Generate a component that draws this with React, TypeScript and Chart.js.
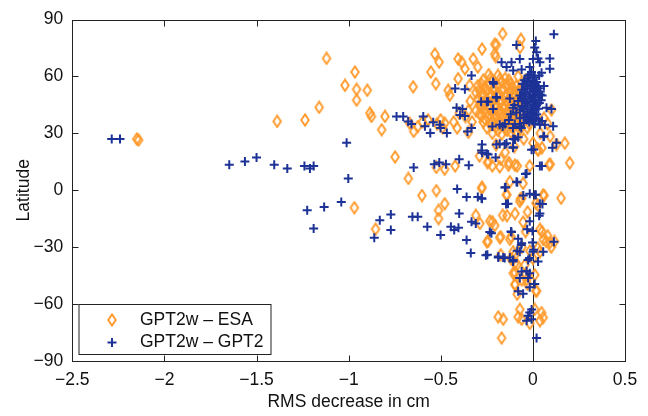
import { useEffect, useRef } from 'react';
import { Chart, registerables } from 'chart.js';

Chart.register(...registerables);

const seriesLabels = ['GPT2w – ESA', 'GPT2w – GPT2'];

const esaRms = [
  -2.15, -2.14, -1.388, -1.237, -1.16, -1.12,
  -0.966, -1.02, -0.957, -0.899, -0.957, -0.885, -0.876, -0.803, -0.821, -0.65, -0.748, -0.676, -0.969, -0.854,
  -0.532, -0.509, -0.554, -0.527, -0.46, -0.451, -0.406, -0.387, -0.369, -0.406, -0.324, -0.299, -0.344, -0.276, -0.198, -0.202, -0.164, -0.207, -0.207, -0.065, -0.07,
  -0.67, -0.647, -0.625, -0.569, -0.501, -0.479, -0.49, -0.411, -0.4, -0.366, -0.43, -0.35, -0.6, -0.52,
  -0.524, -0.479, -0.422, -0.247, -0.22, -0.175, -0.13, -0.085, -0.018, 0.094, 0.2, 0.173, 0.128, 0.027, 0.049, 0.088, -0.098, -0.133, -0.18, -0.241, -0.278, 0.029, -0.053, -0.125, -0.29, -0.15, -0.2, -0.1, -0.05, 0.0,
  -0.524, -0.602, -0.276, -0.142, -0.067, 0.061, 0.153, 0.056, 0.016, -0.061, -0.143, -0.071, -0.479, -0.512, -0.512, -0.31, -0.288, -0.22, -0.164, -0.097, -0.029, 0.027, -0.141, -0.234, -0.207, -0.053, 0.038,
  -0.243, -0.175, -0.119, -0.04, 0.049, 0.072, 0.117, 0.027, -0.18, -0.25, 0.056, 0.092, -0.125, 0.08, 0.1,
  -0.175, -0.097, -0.085, -0.097, -0.04, -0.097, -0.029, 0.016, -0.085, -0.107, -0.017, 0.038, -0.098, -0.044, -0.107, -0.061, 0.01, -0.034, -0.098, 0.02, -0.12, -0.06, 0.0,
  -0.188, -0.161, -0.17, -0.071, -0.08, -0.061, 0.01, 0.047, 0.056, 0.038, -0.017,
  0.101, 0.094, 0.06, 0.04, 0.08,
  -0.24, -0.19, -0.15, -0.27, -0.22, -0.17, -0.12, -0.3, -0.26, -0.21, -0.16, -0.11, -0.07, -0.31, -0.27, -0.23, -0.19, -0.14, -0.1, -0.06,
  -0.3, -0.25, -0.21, -0.17, -0.13, -0.09, -0.05, -0.29, -0.24, -0.2, -0.16, -0.12, -0.08, -0.31, -0.26, -0.22, -0.18, -0.14, -0.1, -0.06,
  -0.28, -0.24, -0.2, -0.16, -0.12, -0.08, -0.27, -0.22, -0.18, -0.14, -0.1, -0.06, -0.02, -0.25, -0.2, -0.15, -0.11, -0.07, -0.03,
  -0.22, -0.17, -0.12, -0.34, -0.35, -0.33, -0.04, -0.08,
  -0.23, -0.18, -0.13, -0.28, -0.24, -0.19, -0.14, -0.09, -0.29, -0.25, -0.21, -0.17, -0.12, -0.08, -0.28, -0.23, -0.19, -0.15, -0.11, -0.07,
  -0.27, -0.22, -0.18, -0.14, -0.1, -0.28, -0.24, -0.2, -0.16, -0.12, -0.08, -0.29, -0.25, -0.21, -0.17, -0.13, -0.09,
  -0.26, -0.21, -0.17, -0.13, -0.09, -0.05, -0.23, -0.19, -0.15, -0.11, -0.07, -0.19, -0.14, -0.09,
];
const esaLat = [
  27, 26.5, 36.3, 37, 43.7, 69.5,
  62.3, 55.3, 53.2, 52.7, 47.5, 40.6, 38.9, 38.9, 31.9, 54.5, 17.5, 6.2, -9.2, -20.5,
  71.8, 67.5, 62.3, 56.2, 52.7, 50.1, 69.2, 67.5, 64, 58.8, 69.2, 64.9, 55.3, 74.4, 76.6, 70.4, 82.5, 77, 71.8, 79.5, 75.3,
  35.4, 31, 33.6, 37.1, 37.1, 35.4, 33, 32.8, 40.6, 38.8, 36, 30.5, 36, 35,
  12, 11.1, 12.8, 14.6, 12.8, 16.3, 14.6, 12.8, 12.8, 13.7, 14.4, 24.8, 24.1, 21.5, 22.4, 13.5, 13.2, 13.2, 12.3, 14.9, 1, 21, 3.6, 4.5, 18, 20, 24, 23, 27, 25,
  -0.2, -2.8, 1.6, -2.4, -4.5, -2.8, -4.2, -2.4, -6.8, -4.2, -2.4, -5.9, -7.1, -10.6, -14.9, -13.2, -17.5, -16.6, -13.2, -12.3, -11.4, -8, -13.4, -16.3, -18.6, -16.8, -20.6,
  -27, -24.5, -24.5, -21.8, -21.8, -27, -27, -30.5, -25, -27.2, -25.9, -27.6, -25.9, -24, -30,
  -34, -34, -39.2, -43.5, -44.4, -49.6, -49.6, -53, -54.8, -32.4, -32, -32.4, -38.5, -39.4, -43.7, -47.2, -44.6, -47.2, -49.8, -53.2, -36, -30, -36,
  -66.8, -68, -77.9, -62.8, -66.8, -68, -62.8, -64.5, -67.1, -68.8, -70.2,
  42.3, 28.4, 38, 30, 35,
  61, 60.5, 59, 58, 57.5, 57, 56, 55, 54.5, 54, 53.5, 54, 53, 51.5, 51, 50.5, 51.5, 50.5, 51, 50,
  48, 47.5, 48.5, 47, 48, 47.5, 47, 45, 44.5, 45.5, 44, 45, 44.5, 42, 42.5, 41.5, 42.5, 41.5, 42, 41,
  39, 39.5, 38.5, 39.5, 38.5, 39, 36, 36.5, 35.5, 36.5, 35.5, 36, 35, 33, 33.5, 32.5, 33, 32, 33,
  30, 29.5, 30.5, 47, 42, 36, 58, 60,
  59, 58.5, 58, 56, 55.5, 55, 55.5, 55, 52.5, 52.5, 52, 52.5, 52, 52.5, 49.5, 49, 49.5, 49, 49.5, 49,
  46, 46.5, 46, 46.5, 46, 43.5, 43, 43.5, 43, 43.5, 43, 40.5, 41, 40, 40.5, 40, 40.5,
  37.5, 38, 37.5, 38, 37.5, 38, 34.5, 35, 34.5, 34.5, 34, 31.5, 31.5, 31,
];

const gpt2Rms = [
  -2.286, -2.241, -1.648, -1.563, -1.5, -1.404, -1.333, -1.24, -1.21, -1.19, -1.225, -1.133, -1.19, -1.04, -1.011, -1.002, -0.861, -0.831, -0.771, -0.771,
  -0.74, -0.704, -0.677, -0.659, -0.595, -0.586, -0.541, -0.505, -0.557, -0.467, -0.501, -0.647, -0.654, -0.625, -0.573, -0.535, -0.508, -0.472, -0.501, -0.445, -0.427, -0.4, -0.411, -0.4, -0.404, -0.36, -0.348, -0.36, -0.337, -0.333, -0.31, -0.299, -0.276,
  -0.414, -0.382, -0.396, -0.369, -0.422, -0.333, -0.369, -0.355, -0.333, -0.281, -0.243, -0.213, -0.198, -0.276, -0.276, -0.243, -0.202, -0.279, -0.25,
  -0.225, -0.247, -0.187, -0.153, -0.108, -0.119, -0.135, -0.148, -0.085, -0.04, -0.052, 0.016, 0.038, 0.038, 0.049, 0.004, 0.106, 0.128, 0.034, -0.017, -0.031, -0.002, -0.116, -0.234, -0.08, -0.061, -0.002, 0.114, -0.279, -0.146, -0.017, 0.01, 0.052, -0.034, -0.089, -0.152, -0.007, 0.038, 0.057,
  -0.107, -0.08, -0.18, -0.143, -0.107,
  -0.255, -0.188, -0.161, -0.125, -0.107, -0.071, 0.001, 0.056, -0.026, 0.028, -0.061, -0.034, -0.017, -0.071, -0.026, 0.01, -0.017, -0.08, -0.053, -0.007, -0.017, -0.026, -0.034, -0.007, 0.02, -0.063, 0.004, -0.018, -0.085,
  0.114, 0.016, 0.01, 0.02, -0.089, 0.001, 0.028, 0.038, 0.092, 0.092, 0.047, 0.034, -0.071, -0.17, -0.116, -0.143, -0.107, -0.061, -0.017, -0.026, -0.007, -0.216, -0.056, -0.197, -0.25, -0.125, -0.107, -0.216, -0.18, -0.152, 0.074, 0.101, 0.065, 0.11, -0.098, -0.071, 0.038, -0.164, -0.22, -0.108, -0.063, 0.061, -0.097, -0.108, -0.198, -0.153,
  -0.03, 0.0, 0.02, -0.05, -0.01, 0.03, -0.06, -0.03, 0.0, 0.02, 0.04, -0.07, -0.04, -0.02, 0.01, 0.03, -0.08, -0.05, -0.03, 0.0, 0.02, 0.045,
  -0.06, -0.04, -0.01, 0.01, 0.03, -0.09, -0.05, -0.02, 0.0, 0.02, -0.07, -0.04, -0.01, 0.015, -0.05, -0.02, 0.01, 0.05, -0.12, -0.1, -0.13, 0.06, 0.05, -0.015, 0.01, -0.045,
  -0.02, 0.01, -0.04, 0.0, 0.03, -0.05, -0.015, 0.015, 0.04, -0.06, -0.01, 0.01, 0.035, -0.04, 0.0, 0.02, -0.07, -0.03, 0.01, -0.05, -0.015, 0.005, 0.03, -0.03, 0.0,
];
const gpt2Lat = [
  27, 27, 13.4, 15.1, 17.2, 13.4, 11.4, 12.8, 11.4, 12.8, -10.6, -8.8, -20.1, -6.2, 25, 6.2, -25, -15.8, -12.8, -21,
  38.9, 38.9, 36.3, 34.9, 38.9, 33.7, 35.9, 34.5, 30.2, 30.2, 32.8, 12, -14, -14, -19.2, 13.7, 14.6, 13.7, -23.6, -19.2, -21, 16.3, 0.7, -12.3, -19.8, -3.6, 13.2, -26.2, -33.1, -16.6, -17.5, -3.6, -4.5,
  43.5, 42.8, 39.7, 39.2, 53.6, 60.5, 53.2, 31, 32.8, 46.6, 46.6, 56.2, 49.2, 24.1, 19.8, 18.9, 17.2, 21, 19.3,
  -22.7, -34, -34.9, -35.7, -37.5, -21.8, -7.1, 1.6, 4.2, 8.5, -2.8, -2.4, -7.1, -12.3, 12.8, 21.5, 22.4, 25, -13.4, -16.3, -20.6, -21.5, -22, -22, -25.5, -27.9, -27.6, -27.2, -4.2, -7.3, -1.9, -2.4, -7.3, 8.8, 4.5, 1.4, 21.3, 12.8, 28.2,
  27, 27.9, 24.5, 24.8, 22.7,
  -34.2, -35.5, -35.5, -35.5, -36.8, -32.4, -32.4, -32.4, -36.8, -37.6, -42.8, -42.5, -43.7, -46.3, -46.3, -49.4, -51.1, -53.2, -54.6, -62.8, -64.5, -66.2, -68.8, -68, -77.9, -28.8, -31.4, -35.7, -31.9,
  82.2, 78.7, 75.3, 72.7, 76.5, 69.2, 69.5, 67.5, 69.5, 64, 61.9, 60.5, 69.2, 67.5, 67.5, 64.9, 63.1, 63.6, 64.9, 60.5, 62.3, 57.1, 56.2, 48.8, 46.7, 48.4, 43.5, 42.8, 34.5, 34.9, 43.5, 42.8, 34.5, 33.7, 34.9, 33.7, 34.5, 33.6, 33.6, 32.8, 32.8, 28.4, 26.7, 22.4, 24.1, 24.1,
  59, 58, 57, 56, 55.5, 55, 53, 53.5, 52.5, 53, 52, 50, 50.5, 49.5, 50, 49, 47, 47.5, 46.5, 47, 46, 47.5,
  44, 44.5, 43.5, 44, 43, 41, 41.5, 40.5, 41, 40, 38, 38.5, 37.5, 38, 35.5, 36, 35, 36.5, 40, 45, 37, 55, 50, 61, 59.5, 58,
  57, 56, 54.5, 54.5, 53.8, 51.5, 51.5, 51.8, 50.5, 48.5, 48.5, 47.8, 46, 45.8, 45.2, 44.8, 42.5, 42.5, 42.3, 39.8, 39.2, 39.6, 37.5, 37, 36.5,
];

const xTicks = [-2.5, -2, -1.5, -1, -0.5, 0, 0.5];
const xTickLabels = ['−2.5', '−2', '−1.5', '−1', '−0.5', '0', '0.5'];
const yTicks = [-90, -60, -30, 0, 30, 60, 90];
const yTickLabels = ['−90', '−60', '−30', '0', '30', '60', '90'];

const ORANGE = 'rgb(255,155,45)';
const BLUE = 'rgb(28,50,150)';
const FONT = '"Liberation Sans", Arial, Helvetica, sans-serif';
const FSIZE = 17.5;

function makeDiamond(color: string): HTMLCanvasElement {
  const c = document.createElement('canvas');
  c.width = 12;
  c.height = 14;
  const g = c.getContext('2d')!;
  g.strokeStyle = color;
  g.lineWidth = 1.9;
  g.lineJoin = 'miter';
  g.beginPath();
  g.moveTo(6, 1.4);
  g.lineTo(9.8, 7);
  g.lineTo(6, 12.6);
  g.lineTo(2.2, 7);
  g.closePath();
  g.stroke();
  return c;
}

export default function App() {
  const ref = useRef<HTMLCanvasElement | null>(null);

  useEffect(() => {
    if (!ref.current) return;
    const diamond = makeDiamond(ORANGE);

    const framePlugin = {
      id: 'frameAndLegend',
      beforeDatasetsDraw(chart: any) {
        const { ctx, chartArea, scales } = chart;
        const x0 = Math.round(scales.x.getPixelForValue(0)) + 0.5;
        ctx.save();
        ctx.strokeStyle = '#222';
        ctx.lineWidth = 1;
        ctx.beginPath();
        ctx.moveTo(x0, chartArea.top);
        ctx.lineTo(x0, chartArea.bottom);
        ctx.stroke();
        ctx.restore();
      },
      afterDatasetsDraw(chart: any) {
        const { ctx, chartArea, scales } = chart;
        const { left, right, top, bottom } = chartArea;
        const L = Math.round(left) + 0.5;
        const R = Math.round(right) + 0.5;
        const T = Math.round(top) + 0.5;
        const B = Math.round(bottom) + 0.5;
        ctx.save();
        ctx.strokeStyle = '#222';
        ctx.lineWidth = 1;
        ctx.strokeRect(L, T, R - L, B - T);
        const tl = 6;
        ctx.beginPath();
        xTicks.forEach((v) => {
          const px = Math.round(scales.x.getPixelForValue(v)) + 0.5;
          ctx.moveTo(px, B);
          ctx.lineTo(px, B - tl);
          ctx.moveTo(px, T);
          ctx.lineTo(px, T + tl);
        });
        yTicks.forEach((v) => {
          const py = Math.round(scales.y.getPixelForValue(v)) + 0.5;
          ctx.moveTo(L, py);
          ctx.lineTo(L + tl, py);
          ctx.moveTo(R, py);
          ctx.lineTo(R - tl, py);
        });
        ctx.stroke();

        // legend
        const lx = L + 6.5;
        const ly = B - 57;
        const lw = 192;
        const lh = 50;
        ctx.fillStyle = '#fff';
        ctx.fillRect(lx, ly, lw, lh);
        ctx.strokeStyle = '#222';
        ctx.strokeRect(lx, ly, lw, lh);
        const mx = lx + 33;
        const r1 = ly + 15.5;
        const r2 = ly + 38;
        ctx.drawImage(diamond, mx - diamond.width / 2, r1 - diamond.height / 2);
        ctx.strokeStyle = BLUE;
        ctx.lineWidth = 2;
        ctx.beginPath();
        ctx.moveTo(mx - 4.5, r2);
        ctx.lineTo(mx + 4.5, r2);
        ctx.moveTo(mx, r2 - 4.5);
        ctx.lineTo(mx, r2 + 4.5);
        ctx.stroke();
        ctx.fillStyle = '#111';
        ctx.font = `${FSIZE}px ${FONT}`;
        ctx.textBaseline = 'middle';
        ctx.textAlign = 'left';
        ctx.fillText(seriesLabels[0], lx + 61, r1);
        ctx.fillText(seriesLabels[1], lx + 61, r2);
        ctx.restore();
      },
    };

    const chart = new Chart(ref.current, {
      type: 'scatter',
      data: {
        datasets: [
          {
            label: seriesLabels[0],
            data: esaRms.map((v, i) => ({ x: v, y: esaLat[i] })),
            pointStyle: diamond as any,
            pointRadius: 5,
            borderColor: ORANGE,
            backgroundColor: ORANGE,
            order: 2,
          },
          {
            label: seriesLabels[1],
            data: gpt2Rms.map((v, i) => ({ x: v, y: gpt2Lat[i] })),
            pointStyle: 'cross',
            pointRadius: 4.5,
            borderWidth: 2,
            borderColor: BLUE,
            backgroundColor: BLUE,
            order: 1,
          },
        ],
      },
      options: {
        animation: false,
        responsive: true,
        maintainAspectRatio: false,
        layout: { padding: { top: 15, right: 23, left: 0, bottom: 0 } },
        plugins: {
          legend: { display: false },
          tooltip: { enabled: false },
        },
        scales: {
          x: {
            type: 'linear',
            min: -2.5,
            max: 0.5,
            afterBuildTicks: (s: any) => {
              s.ticks = xTicks.map((v) => ({ value: v }));
            },
            afterFit: (s: any) => {
              s.height = 55;
            },
            grid: { display: false, drawTicks: false },
            border: { display: false },
            ticks: {
              padding: 9,
              color: '#111',
              font: { family: FONT, size: FSIZE },
              callback: (v: any) => xTickLabels[xTicks.indexOf(Number(v))],
            },
            title: {
              display: true,
              text: 'RMS decrease in cm',
              color: '#111',
              font: { family: FONT, size: FSIZE },
              padding: { top: 0, bottom: 3 },
            },
          },
          y: {
            type: 'linear',
            min: -90,
            max: 90,
            afterBuildTicks: (s: any) => {
              s.ticks = yTicks.map((v) => ({ value: v }));
            },
            afterFit: (s: any) => {
              s.width = 72.3;
            },
            grid: { display: false, drawTicks: false },
            border: { display: false },
            ticks: {
              padding: 9,
              color: '#111',
              font: { family: FONT, size: FSIZE },
              callback: (v: any) => yTickLabels[yTicks.indexOf(Number(v))],
            },
            title: {
              display: true,
              text: 'Latitude',
              color: '#111',
              font: { family: FONT, size: FSIZE },
              padding: { top: 14, bottom: 0 },
            },
          },
        },
      },
      plugins: [framePlugin],
    });
    return () => chart.destroy();
  }, []);

  return (
    <div style={{ position: 'fixed', left: 0, top: 0, width: 648, height: 416, background: '#fff' }}>
      <canvas ref={ref} />
    </div>
  );
}
